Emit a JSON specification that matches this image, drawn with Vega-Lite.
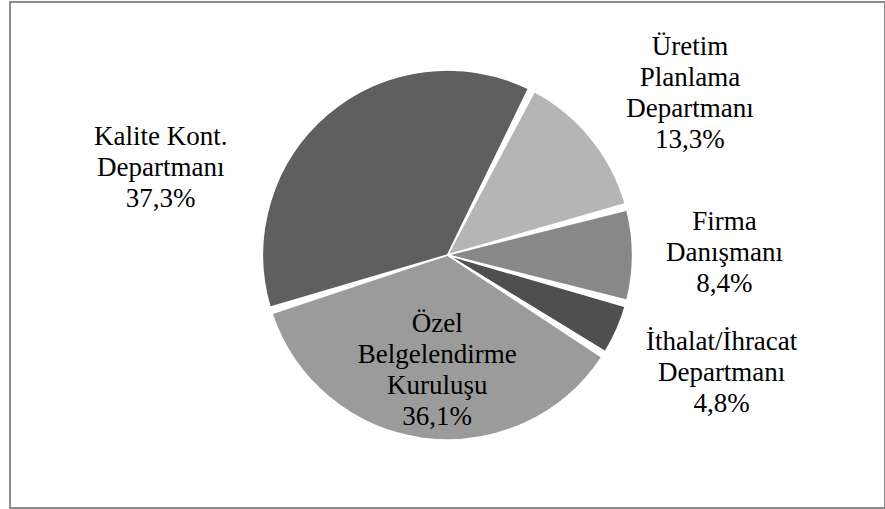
{
  "$schema": "https://vega.github.io/schema/vega-lite/v6.json",
  "width": 875,
  "height": 506,
  "autosize": {"type": "none"},
  "padding": {"left": 10, "top": 2, "right": 0, "bottom": 1},
  "background": "white",
  "view": {"stroke": "#8c8c8c", "strokeWidth": 2, "fill": "white"},
  "data": {
    "values": [
      {"kaynak": "Üretim Planlama Departmanı", "label": "Üretim\nPlanlama\nDepartmanı\n13,3%", "pay": 13.3, "sira": 1},
      {"kaynak": "Firma Danışmanı", "label": "Firma\nDanışmanı\n8,4%", "pay": 8.4, "sira": 2},
      {"kaynak": "İthalat/İhracat Departmanı", "label": "İthalat/İhracat\nDepartmanı\n4,8%", "pay": 4.8, "sira": 3},
      {"kaynak": "Özel Belgelendirme Kuruluşu", "label": "Özel\nBelgelendirme\nKuruluşu\n36,1%", "pay": 36.1, "sira": 4},
      {"kaynak": "Kalite Kont. Departmanı", "label": "Kalite Kont.\nDepartmanı\n37,3%", "pay": 37.3, "sira": 5}
    ]
  },
  "encoding": {
    "theta": {"field": "pay", "type": "quantitative", "stack": true, "scale": {"range": [0.471, 6.754]}},
    "order": {"field": "sira", "type": "quantitative"},
    "color": {
      "field": "kaynak",
      "type": "nominal",
      "scale": {
        "domain": ["Üretim Planlama Departmanı", "Firma Danışmanı", "İthalat/İhracat Departmanı", "Özel Belgelendirme Kuruluşu", "Kalite Kont. Departmanı"],
        "range": ["#b5b5b5", "#888888", "#4f4f4f", "#9b9b9b", "#5f5f5f"]
      },
      "legend": null
    }
  },
  "layer": [
    {
      "mark": {"type": "arc", "outerRadius": 185, "padAngle": 0.035, "stroke": "white", "strokeWidth": 1.5}
    },
    {
      "mark": {"type": "text", "font": "Liberation Serif", "fontSize": 27, "lineHeight": 31, "lineBreak": "\n", "align": "center", "baseline": "middle", "dx": 25, "dy": -32},
      "encoding": {
        "radius": {"value": 280},
        "color": {"value": "black"},
        "text": {"condition": {"test": "datum.sira == 1", "field": "label"}, "value": ""}
      }
    },
    {
      "mark": {"type": "text", "font": "Liberation Serif", "fontSize": 27, "lineHeight": 31, "lineBreak": "\n", "align": "center", "baseline": "middle", "dx": -3, "dy": -33},
      "encoding": {
        "radius": {"value": 280},
        "color": {"value": "black"},
        "text": {"condition": {"test": "datum.sira == 2", "field": "label"}, "value": ""}
      }
    },
    {
      "mark": {"type": "text", "font": "Liberation Serif", "fontSize": 27, "lineHeight": 31, "lineBreak": "\n", "align": "center", "baseline": "middle", "dx": 18, "dy": -26},
      "encoding": {
        "radius": {"value": 280},
        "color": {"value": "black"},
        "text": {"condition": {"test": "datum.sira == 3", "field": "label"}, "value": ""}
      }
    },
    {
      "mark": {"type": "text", "font": "Liberation Serif", "fontSize": 27, "lineHeight": 31, "lineBreak": "\n", "align": "center", "baseline": "middle", "dx": 5, "dy": -47},
      "encoding": {
        "radius": {"value": 117},
        "color": {"value": "black"},
        "text": {"condition": {"test": "datum.sira == 4", "field": "label"}, "value": ""}
      }
    },
    {
      "mark": {"type": "text", "font": "Liberation Serif", "fontSize": 27, "lineHeight": 31, "lineBreak": "\n", "align": "center", "baseline": "middle", "dx": -106, "dy": 96},
      "encoding": {
        "radius": {"value": 280},
        "color": {"value": "black"},
        "text": {"condition": {"test": "datum.sira == 5", "field": "label"}, "value": ""}
      }
    }
  ]
}
